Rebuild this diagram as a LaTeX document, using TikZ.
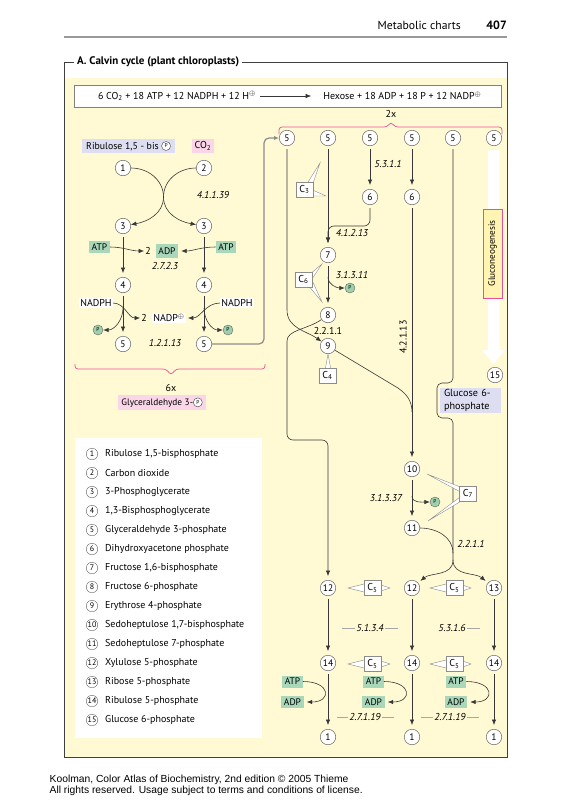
\documentclass[tikz,border=0pt]{standalone}
\usepackage{fontspec}
\setmainfont{PT Sans}
\newfontfamily\footfont{Liberation Sans}
\usetikzlibrary{arrows.meta,positioning}

\definecolor{bgyellow}{RGB}{255,250,212}
\definecolor{cofgreen}{RGB}{168,215,186}
\definecolor{pgreen}{RGB}{158,208,172}
\definecolor{lavbox}{RGB}{222,222,242}
\definecolor{pinkbox}{RGB}{250,214,232}
\definecolor{pinkline}{RGB}{230,80,150}
\definecolor{gnbox}{RGB}{255,244,178}
\definecolor{linegray}{RGB}{55,55,55}

\newcommand{\fsz}[1]{\fontsize{#1}{#1}\selectfont}
\newcommand{\phos}{\tikz[baseline=-0.65ex]\node[circle,draw=black!75,fill=white,inner sep=0pt,minimum size=9pt,font=\fsz{5.5}]{P};}

\begin{document}
\begin{tikzpicture}[x=1pt,y=1pt,
  met/.style={circle,draw=black!60,fill=white,line width=0.5pt,inner sep=0pt,minimum size=15.5pt,font=\fsz{9.5}},
  legnum/.style={circle,draw=black!60,line width=0.4pt,inner sep=0pt,minimum size=11.5pt,font=\fsz{8}},
  legtxt/.style={font=\fsz{10},inner sep=1pt},
  cof/.style={fill=cofgreen,inner xsep=2.5pt,inner ysep=0pt,minimum height=12pt,font=\fsz{9.5}},
  lbl/.style={font=\fsz{10},inner sep=1pt},
  enz/.style={font=\itshape\fsz{10},inner sep=1pt},
  pcirc/.style={circle,draw=black!60,fill=pgreen,line width=0.4pt,inner sep=0pt,minimum size=10pt,font=\fsz{5.5}},
  cbox/.style={draw=black!45,fill=white,line width=0.4pt,minimum width=17pt,minimum height=15pt,inner sep=0pt,font=\fsz{10}},
  wedge/.style={draw=black!45,fill=white,line width=0.4pt},
  flow/.style={draw=linegray,line width=0.6pt,-{Latex[length=5.5pt,width=4.5pt]}},
  conn/.style={draw=linegray,line width=0.6pt},
  gap/.style={shorten <=3pt,shorten >=4pt},
  enzline/.style={draw=black!35,line width=0.5pt},
  brace/.style={draw=pinkline,line width=0.7pt,rounded corners=3pt}]
\useasboundingbox (0,0) rectangle (564,-800);

\node[anchor=base east,font=\fsz{11.7},inner sep=0pt] (hdr) at (461,-30) {Metabolic charts};
\node[anchor=base east,font=\bfseries\fsz{12},inner sep=0pt] (pgno) at (507,-30) {407};
\draw[black!40,line width=2.5pt] (64,-37) -- (507,-37);

\fill[bgyellow] (64,-78) rectangle (507,-757);
\draw[black!75,line width=0.6pt] (64,-62) rectangle (507,-757);
\node[anchor=west,fill=white,inner sep=3pt,font=\bfseries\fsz{11}] (title) at (74,-62) {A. Calvin cycle (plant chloroplasts)};

\node[draw=black!50,fill=white,minimum width=426.7pt,minimum height=22pt] (eqbox) at (287.35,-96) {};
\node[lbl] (lhs) at (177,-96) {6 CO\textsubscript{2} + 18 ATP + 12 NADPH + 12 H$^{\oplus}$};
\node[lbl] (rhs) at (402.4,-96) {Hexose + 18 ADP + 18 P + 12 NADP$^{\oplus}$};
\draw[flow,shorten <=3pt,shorten >=11pt] (lhs) -- (rhs);

\node[lbl] (twox) at (391,-114) {2x};
\draw[brace] (279,-134) -- (279,-127) -- (387,-127) -- (391,-122) -- (395,-127) -- (502,-127) -- (502,-134);

\node[fill=lavbox,minimum height=14pt,inner xsep=4pt,inner ysep=0pt,font=\fsz{9.8}] (rubp) at (128.5,-146) {Ribulose 1,5 - bis \phos};
\node[fill=pinkbox,minimum height=14pt,inner xsep=3pt,inner ysep=0pt,font=\fsz{10}] (cotwo) at (203,-146) {CO\textsubscript{2}};
\foreach \n/\x/\y/\t in {m1/123/168/1, m2/204/168/2, m3a/123/226/3, m3b/204/226/3, m4a/123/285/4, m4b/204/285/4, m5a/123/344/5, m5b/204/344/5}
  \node[met] (\n) at (\x,-\y) {\t};
\coordinate (cross) at (163.5,-197);
\draw[flow] (m1) to[out=0,in=90] (cross) to[out=-90,in=170] (m3b);
\draw[flow] (m2) to[out=180,in=90] (cross) to[out=-90,in=10] (m3a);
\node[enz] (e41139) at (213,-195) {4.1.1.39};

\node[cof] (atpa) at (99.5,-247) {ATP};
\node[cof] (atpb) at (226,-247) {ATP};
\node[lbl] (twoa) at (148,-251) {2};
\node[cof,minimum height=14pt] (adp) at (167,-251) {ADP};
\node[enz] (e2723) at (165,-265.5) {2.7.2.3};
\draw[flow] (atpa) to[out=0,in=180] (twoa);
\draw[flow,shorten >=3pt] (atpb) to[out=180,in=0] (adp);
\draw[flow,gap] (m3a) -- (m4a);
\draw[flow,gap] (m3b) -- (m4b);

\node[lbl,fill=white] (nadpha) at (96,-303) {NADPH};
\node[lbl,fill=white] (nadphb) at (237,-303) {NADPH};
\node[lbl] (twob) at (144,-318) {2};
\node[lbl,fill=white] (nadp) at (169,-318) {NADP$^{\oplus}$};
\node[pcirc] (pa) at (98,-330) {P};
\node[pcirc] (pb) at (228,-330) {P};
\draw[flow] (nadpha) to[out=0,in=180] (twob);
\draw[flow,shorten >=2pt] (nadphb) to[out=180,in=0] (nadp);
\draw[flow] ([yshift=-15pt]m4a.south) to[out=-90,in=0] (pa);
\draw[flow] ([yshift=-15pt]m4b.south) to[out=-90,in=180] (pb);
\draw[flow,gap] (m4a) -- (m5a);
\draw[flow,gap] (m4b) -- (m5b);
\node[enz] (e12113) at (165,-343) {1.2.1.13};

\draw[brace] (75,-364) -- (75,-369) -- (166,-369) -- (171,-375) -- (176,-369) -- (265,-369) -- (265,-364);
\node[lbl] (sixx) at (171,-388) {6x};
\node[fill=pinkbox,minimum height=15pt,inner xsep=3pt,inner ysep=0pt,font=\fsz{9.3}] (gapbox) at (162,-402.5) {Glyceraldehyde 3-\phos};

\fill[white] (75,-438) rectangle (262,-738);
\foreach \n/\t [count=\i from 0] in {1/{Ribulose 1,5-bisphosphate}, 2/{Carbon dioxide}, 3/{3-Phosphoglycerate}, 4/{1,3-Bisphosphoglycerate}, 5/{Glyceraldehyde 3-phosphate}, 6/{Dihydroxyacetone phosphate}, 7/{Fructose 1,6-bisphosphate}, 8/{Fructose 6-phosphate}, 9/{Erythrose 4-phosphate}, 10/{Sedoheptulose 1,7-bisphosphate}, 11/{Sedoheptulose 7-phosphate}, 12/{Xylulose 5-phosphate}, 13/{Ribose 5-phosphate}, 14/{Ribulose 5-phosphate}, 15/{Glucose 6-phosphate}}{
  \node[legnum] (l\n) at (92,{-454-19*\i}) {\n};
  \node[legtxt,right=6pt of l\n] (lt\n) {\t};
}

\fill[white] (488,-150) -- (499.5,-150) -- (499.5,-350) -- (505,-350) -- (493.5,-364) -- (482,-350) -- (488,-350) -- cycle;
\node[draw=pinkline,fill=gnbox,line width=0.6pt,rotate=90,minimum width=89pt,minimum height=19pt,inner sep=0pt,font=\fsz{9.2}] (gluco) at (492.5,-253.5) {Gluconeogenesis};
\node[fill=lavbox,align=left,text width=53pt,inner xsep=4pt,inner ysep=1.5pt,font=\fontsize{10.2}{12.5}\selectfont] (gsixbox) at (470.5,-400.5) {Glucose 6-\\phosphate};

\foreach \x [count=\i] in {287,328,370,412,453,494}
  \node[met] (t\i) at (\x,-138) {5};
\foreach \n/\x/\y/\t in {dhapa/370/197/6, dhapb/412/197/6, fbp/328/255/7, fsix/328/315/8, efour/328/346/9, sbp/412/469/10, sseven/412/528/11, xua/328/588/12, xub/412/588/12, rfive/494/588/13, rua/328/663/14, rub/412/663/14, ruc/494/663/14, bpa/328/737/1, bpb/412/737/1, bpc/494/737/1, gsix/495/375/15}
  \node[met] (\n) at (\x,-\y) {\t};

\draw[black!45,line width=1.2pt,-{Latex[length=5pt,width=4.5pt]},rounded corners=5pt] (m5b) -- ++(60,0) |- (t1);

\draw[flow,gap] (t2) -- (fbp);
\draw[flow,gap] (t3) -- (dhapa);
\draw[flow,gap] (t4) -- (dhapb);
\draw[flow,gap,rounded corners=6pt] (dhapa) -- (370,-226) -- (328,-226) -- (fbp);
\draw[flow,gap] (fbp) -- (fsix);
\node[pcirc] (pthree) at (350,-288) {P};
\draw[flow] ([yshift=-14pt]fbp.south) to[out=-90,in=180] (pthree);
\draw[flow,shorten <=3pt] (t1) -- (287,-310) to[out=-90,in=145] (efour);
\draw[flow,rounded corners=6pt,shorten >=4pt] (fsix) to[out=215,in=90] (287,-347) -- (287,-440) -- (328,-440) -- (xua);
\draw[conn] (efour) -- (398,-388) to[out=-35,in=90] (412,-412);
\draw[flow,gap] (dhapb) -- (sbp);
\draw[flow,gap] (sbp) -- (sseven);
\node[pcirc] (pfour) at (435,-502) {P};
\draw[flow] ([yshift=-19pt]sbp.south) to[out=-90,in=180] (pfour);
\coordinate (split) at (453,-560);
\draw[conn,shorten <=3pt,rounded corners=5pt] (t5) -- (453,-383) -- (437,-383) -- (437,-418) -- (453,-418) -- (split);
\draw[conn] (sseven) to[out=0,in=90] (453,-553);
\draw[flow,shorten >=3pt] (split) to[out=-90,in=40] (xub);
\draw[flow,shorten >=3pt] (split) to[out=-90,in=140] (rfive);
\foreach \a/\b in {xua/rua, xub/rub, rfive/ruc, rua/bpa, rub/bpb, ruc/bpc}
  \draw[flow,gap] (\a) -- (\b);

\node[enz] (e5311) at (388,-164) {5.3.1.1};
\node[enz] (e41213) at (352,-233) {4.1.2.13};
\node[enz] (e31311) at (352,-275) {3.1.3.11};
\node[lbl] (e2211a) at (328,-331) {2.2.1.1};
\node[lbl,rotate=90] (e42113) at (403,-337) {4.2.1.13};
\node[enz] (e31337) at (386,-498) {3.1.3.37};
\node[enz] (e2211b) at (471,-544) {2.2.1.1};
\node[enz] (e5134) at (370,-628) {5.1.3.4};
\node[enz] (e5316) at (452,-628) {5.3.1.6};
\node[enz] (e27119a) at (365,-717) {2.7.1.19};
\node[enz] (e27119b) at (450,-717) {2.7.1.19};
\draw[enzline] (e5134.west) -- ++(-13,0);
\draw[enzline] (e5134.east) -- ++(13,0);
\draw[enzline] (e5316.east) -- ++(13,0);
\draw[enzline] (e27119a.west) -- ++(-11,0);
\draw[enzline] (e27119a.east) -- ++(12,0);
\draw[enzline] (e27119b.west) -- ++(-12,0);
\draw[enzline] (e27119b.east) -- ++(12,0);

\foreach \x [count=\i] in {292.5,373.5,456}{
  \node[cof] (atpc\i) at (\x,-681.5) {ATP};
  \node[cof] (adpc\i) at (\x,-702) {ADP};
  \draw[flow,shorten >=3pt] (atpc\i) to[out=0,in=0,looseness=3.5] (adpc\i);
}

\foreach \tx/\ty/\ax/\ay/\bx/\by in {320/163/303/190/310/192, 326/196/308/188/308/196, 322/264/303/280/310/282, 322/302/310/276/303/279, 328/354/324/376/332/376, 427/474/468/490/468/496, 428/521/468/491/468/497, 348/588/372/582/372/594, 390/588/372/582/372/594, 430/588/454/582/454/594, 471/588/454/582/454/594, 348/664/372/658/372/670, 390/664/372/658/372/670, 430/664/454/658/454/670, 471/664/454/658/454/670}
  \filldraw[wedge] (\tx,-\ty) -- (\ax,-\ay) -- (\bx,-\by) -- cycle;
\node[cbox] (cthree) at (304.5,-189.5) {C\textsubscript{3}};
\node[cbox] (csix) at (303.5,-279.5) {C\textsubscript{6}};
\node[cbox] (cfour) at (327.5,-375.5) {C\textsubscript{4}};
\node[cbox] (cseven) at (468,-493.5) {C\textsubscript{7}};
\foreach \x/\y [count=\i] in {372.5/588, 454.5/588, 372.5/664, 454.5/664}
  \node[cbox] (cfive\i) at (\x,-\y) {C\textsubscript{5}};

\node[anchor=base west,font=\footfont\fsz{10.3},inner sep=0pt] (foota) at (49.5,-782) {Koolman, Color Atlas of Biochemistry, 2nd edition © 2005 Thieme};
\node[anchor=base west,font=\footfont\fsz{10.3},inner sep=0pt] (footb) at (49.5,-793.5) {All rights reserved. Usage subject to terms and conditions of license.};
\end{tikzpicture}
\end{document}
